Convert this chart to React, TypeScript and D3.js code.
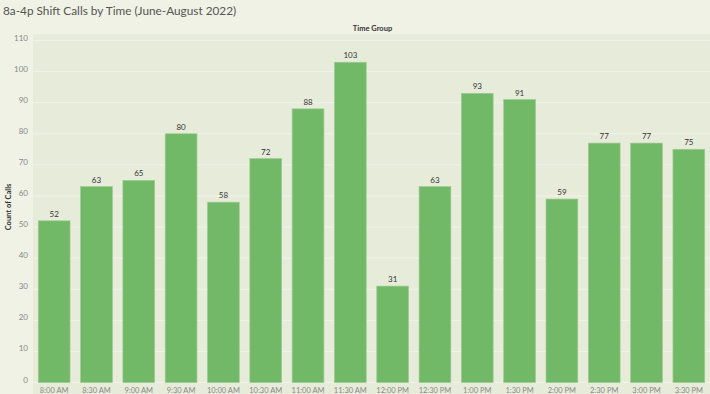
import React from 'react';
import * as d3 from 'd3';

const timeGroups = [
  '8:00 AM', '8:30 AM', '9:00 AM', '9:30 AM', '10:00 AM', '10:30 AM', '11:00 AM', '11:30 AM',
  '12:00 PM', '12:30 PM', '1:00 PM', '1:30 PM', '2:00 PM', '2:30 PM', '3:00 PM', '3:30 PM',
];
const callCounts = [52, 63, 65, 80, 58, 72, 88, 103, 31, 63, 93, 91, 59, 77, 77, 75];
const yTicks = [0, 10, 20, 30, 40, 50, 60, 70, 80, 90, 100, 110];

const W = 710;
const H = 394;
const margin = { top: 34, right: 0, bottom: 11.5, left: 33 };

const font = 'Lato, "Open Sans", sans-serif';

export default function App() {
  const x = d3.scaleBand<string>()
    .domain(timeGroups)
    .range([margin.left, W - margin.right])
    .paddingInner(0.25)
    .paddingOuter(0.125);

  const y = d3.scaleLinear()
    .domain([0, 110])
    .range([H - margin.bottom, 40.5]);

  return (
    <div style={{ position: 'fixed', left: 0, top: 0, width: W, height: H }}>
      <svg width={W} height={H} style={{ display: 'block' }}>
        <rect x={0} y={0} width={W} height={H} fill="#eff2e4" />
        <rect x={margin.left} y={margin.top} width={W - margin.left - margin.right}
          height={H - margin.top} fill="#e7ebda" />

        <text x={3} y={15} fontFamily={font} fontSize={11.8} fill="#555">
          8a-4p Shift Calls by Time (June-August 2022)
        </text>
        <text x={(margin.left + W) / 2 + 1} y={31} textAnchor="middle" fontFamily={font}
          fontSize={7.5} fontWeight="bold" fill="#333">Time Group</text>

        {/* gridlines */}
        {yTicks.map(t => (
          <line key={t} x1={margin.left} x2={W} y1={y(t)} y2={y(t)} stroke="#f1f3e8" strokeWidth={1} />
        ))}

        {/* y ticks */}
        {yTicks.map(t => (
          <text key={t} x={28} y={y(t)} textAnchor="end" fontFamily={font}
            fontSize={8} fill="#888">{t}</text>
        ))}
        <text transform={`translate(11,207) rotate(-90)`} textAnchor="middle"
          fontFamily={font} fontSize={7.5} fontWeight="bold" fill="#333">Count of Calls</text>

        {/* bars */}
        {timeGroups.map((g, i) => (
          <g key={g}>
            <rect x={x(g)!} y={y(callCounts[i])} width={x.bandwidth()}
              height={y(0) - y(callCounts[i])} fill="#71b966" stroke="#9acb8f" strokeWidth={0.7} />
            <text x={x(g)! + x.bandwidth() / 2} y={y(callCounts[i]) - 4} textAnchor="middle"
              fontFamily={font} fontSize={8} fill="#333">{callCounts[i]}</text>
            <text x={x(g)! + x.bandwidth() / 2} y={H - 1.5} textAnchor="middle"
              fontFamily={font} fontSize={7.5} fill="#888">{g}</text>
          </g>
        ))}
      </svg>
    </div>
  );
}
